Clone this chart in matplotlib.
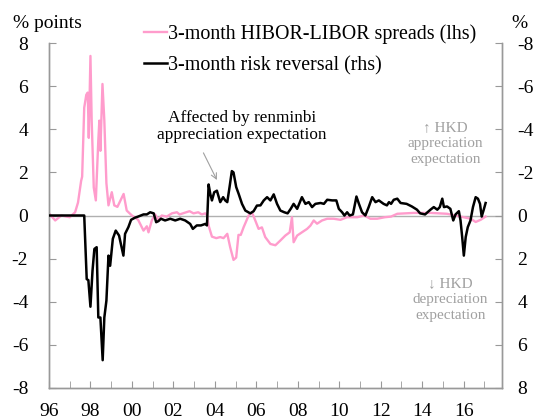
import numpy as np
import matplotlib
matplotlib.use("Agg")
import matplotlib.pyplot as plt

plt.rcParams['font.family'] = ['Liberation Serif', 'DejaVu Serif']

# ------------------------
# Data (decimal years)
# ------------------------
hibor_year = [1996.0, 1996.3, 1996.6, 1997.0, 1997.26, 1997.4, 1997.55, 1997.6, 1997.7, 1997.8,
              1997.87, 1997.92, 1998.0, 1998.06, 1998.16, 1998.26, 1998.38, 1998.43, 1998.48, 1998.58,
              1998.67, 1998.77, 1998.87, 1999.03, 1999.15, 1999.3, 1999.6, 1999.75, 2000.0, 2000.3,
              2000.56, 2000.72, 2000.8, 2000.96, 2001.12, 2001.27, 2001.44, 2001.68, 2001.93, 2002.17,
              2002.3, 2002.46, 2002.78, 2002.97, 2003.2, 2003.37, 2003.54, 2003.62, 2003.7, 2003.86,
              2004.07, 2004.26, 2004.42, 2004.6, 2004.74, 2004.9, 2005.03, 2005.14, 2005.25, 2005.39,
              2005.63, 2005.79, 2005.95, 2006.11, 2006.27, 2006.43, 2006.68, 2006.92, 2007.16, 2007.4,
              2007.61, 2007.72, 2007.8, 2007.97, 2008.2, 2008.45, 2008.61, 2008.77, 2008.93, 2009.17,
              2009.42, 2009.73, 2010.06, 2010.38, 2010.87, 2011.2, 2011.5, 2011.83, 2012.2, 2012.5,
              2012.8, 2013.6, 2014.4, 2015.2, 2015.85, 2016.34, 2016.58, 2016.82, 2017.06]
hibor_spread = [0.1, -0.23, 0.0, -0.08, 0.15, 0.6, 1.6, 1.8, 5.0, 5.6,
                5.7, 3.6, 7.4, 4.4, 1.3, 0.7, 3.5, 4.4, 3.0, 6.1,
                4.4, 1.5, 0.47, 1.08, 0.47, 0.4, 1.0, 0.23, 0.0, -0.2,
                -0.7, -0.5, -0.78, -0.23, 0.05, -0.2, 0.0, -0.05, 0.1, 0.15,
                0.05, 0.1, 0.2, 0.1, 0.15, 0.05, 0.1, 0.0, -0.47, -0.98,
                -1.05, -1.0, -1.05, -0.85, -1.47, -2.06, -1.95, -0.9, -0.9, -0.54,
                0.0, 0.15, -0.23, -0.62, -0.55, -1.0, -1.32, -1.38, -1.16, -0.93,
                -0.78, -0.08, -1.24, -0.93, -0.78, -0.62, -0.47, -0.23, -0.38, -0.23,
                -0.15, -0.15, -0.2, -0.08, -0.08, 0.0, -0.15, -0.15, -0.08, -0.05,
                0.08, 0.12, 0.12, 0.08, -0.05, -0.15, -0.3, -0.2, -0.05]

rr_year = [1996.0, 1997.7, 1997.82, 1997.9, 1998.0, 1998.1, 1998.19, 1998.3, 1998.38, 1998.48,
           1998.59, 1998.67, 1998.77, 1998.87, 1998.95, 1999.08, 1999.22, 1999.38, 1999.59, 1999.67,
           1999.83, 1999.96, 2000.15, 2000.3, 2000.56, 2000.72, 2000.88, 2001.05, 2001.17, 2001.28,
           2001.4, 2001.6, 2001.85, 2002.09, 2002.33, 2002.57, 2002.81, 2002.94, 2003.13, 2003.33,
           2003.54, 2003.62, 2003.7, 2003.78, 2003.86, 2003.97, 2004.1, 2004.26, 2004.4, 2004.5,
           2004.6, 2004.71, 2004.82, 2004.9, 2005.03, 2005.15, 2005.31, 2005.47, 2005.71, 2005.87,
           2006.03, 2006.2, 2006.36, 2006.52, 2006.68, 2006.84, 2007.0, 2007.16, 2007.35, 2007.51,
           2007.66, 2007.8, 2007.97, 2008.2, 2008.37, 2008.53, 2008.69, 2008.85, 2009.1, 2009.26,
           2009.42, 2009.66, 2009.86, 2009.98, 2010.14, 2010.25, 2010.38, 2010.5, 2010.66, 2010.83,
           2010.95, 2011.1, 2011.26, 2011.42, 2011.59, 2011.75, 2011.91, 2012.14, 2012.3, 2012.4,
           2012.5, 2012.63, 2012.8, 2012.96, 2013.25, 2013.5, 2013.75, 2013.9, 2014.14, 2014.4,
           2014.56, 2014.73, 2014.85, 2014.97, 2015.05, 2015.2, 2015.36, 2015.5, 2015.61, 2015.77,
           2015.85, 2015.93, 2016.01, 2016.1, 2016.2, 2016.33, 2016.45, 2016.58, 2016.69, 2016.79,
           2016.87, 2016.97, 2017.06]
risk_reversal = [0.0, 0.0, 2.95, 3.0, 4.23, 2.56, 1.55, 1.47, 4.73, 4.73,
                 6.71, 4.73, 3.95, 1.86, 2.33, 1.08, 0.7, 0.93, 1.86, 0.85,
                 0.54, 0.2, 0.1, 0.05, -0.05, -0.05, -0.15, -0.1, 0.31, 0.26,
                 0.15, 0.23, 0.15, 0.23, 0.15, 0.23, 0.39, 0.62, 0.46, 0.46,
                 0.39, 0.46, -1.44, -1.0, -0.7, -1.08, -1.15, -0.62, -0.85, -0.7,
                 -0.62, -1.32, -2.06, -2.0, -1.32, -1.0, -0.54, -0.23, -0.1, -0.2,
                 -0.46, -0.47, -0.7, -0.85, -0.7, -0.98, -0.54, -0.23, -0.15, -0.1,
                 -0.31, -0.54, -0.31, -0.85, -0.54, -0.62, -0.39, -0.54, -0.58, -0.54,
                 -0.73, -0.7, -0.7, -0.31, -0.15, 0.0, -0.15, 0.0, -0.05, -0.88,
                 -0.54, -0.15, 0.0, -0.39, -0.85, -0.62, -0.7, -0.54, -0.47, -0.62,
                 -0.54, -0.73, -0.78, -0.58, -0.54, -0.42, -0.27, -0.1, -0.05, -0.27,
                 -0.39, -0.27, -0.39, -0.78, -0.39, -0.42, -0.31, 0.23, -0.05, -0.2,
                 0.23, 1.0, 1.86, 1.0, 0.54, 0.23, -0.39, -0.85, -0.78, -0.54,
                 0.05, -0.27, -0.58]

year_ticks = list(range(1996, 2017, 2))
year_labels = ["96", "98", "00", "02", "04", "06", "08", "10", "12", "14", "16"]
lhs_ticks = [-8, -6, -4, -2, 0, 2, 4, 6, 8]

PINK = "#ff9ccc"
GREY = "#a0a0a0"

# ------------------------
# Figure
# ------------------------
fig = plt.figure(figsize=(5.37, 4.2), dpi=100)
ax = fig.add_axes([0.0912, 0.0762, 0.8436, 0.8214])
ax2 = ax.twinx()

ax.axhline(0, color="#b0b0b0", lw=1.0, zorder=1)
l1, = ax.plot(hibor_year, hibor_spread, color=PINK, lw=1.7, zorder=2,
              label="3-month HIBOR-LIBOR spreads (lhs)")
l2, = ax2.plot(rr_year, risk_reversal, color="black", lw=1.8, zorder=3,
               label="3-month risk reversal (rhs)")

ax.set_xlim(1996, 2017.85)
ax.set_ylim(-8, 8)
ax2.set_ylim(8, -8)

ax.set_yticks(lhs_ticks)
ax.set_yticklabels([str(t) for t in lhs_ticks])
ax2.set_yticks(lhs_ticks)
ax2.set_yticklabels([str(t) for t in lhs_ticks])
ax.set_xticks(year_ticks)
ax.set_xticklabels(year_labels)
ax.set_xticks(range(1996, 2018), minor=True)

for a in (ax, ax2):
    a.spines["top"].set_visible(False)
    for s in ("left", "right", "bottom"):
        a.spines[s].set_color("#999999")
        a.spines[s].set_linewidth(1.0)
ax.tick_params(axis="y", direction="in", length=5, color="#999999", labelsize=14, pad=15)
ax2.tick_params(axis="y", direction="in", length=5, color="#999999", labelsize=14, pad=11)
ax.tick_params(axis="x", which="both", direction="in", length=5, color="#999999",
               labelsize=14, pad=11)

fig.text(0.024, 0.943, "% points", fontsize=14, va="center", ha="left")
fig.text(0.968, 0.943, "%", fontsize=14, va="center", ha="center")

fig.legend(handles=[l1, l2], loc="upper left", bbox_to_anchor=(0.253, 0.962),
           frameon=False, fontsize=14.4, handlelength=1.15, handletextpad=0.05,
           labelspacing=0.62, borderaxespad=0)

ax.text(2005.3, 4.14, "Affected by renminbi\nappreciation expectation", fontsize=12.4,
        ha="center", va="center", linespacing=1.05)
ax.annotate("", xy=(2004.16, 1.53), xytext=(2003.39, 3.02),
            arrowprops=dict(arrowstyle="->", color=GREY, lw=0.8))

ax.text(2015.13, 3.35, "\u2191 HKD\nappreciation\nexpectation", fontsize=11, color=GREY,
        ha="center", va="center", linespacing=1.3)
ax.text(2015.37, -3.9, "\u2193 HKD\ndepreciation\nexpectation", fontsize=11, color=GREY,
        ha="center", va="center", linespacing=1.3)

fig.savefig("out.png", dpi=100)
